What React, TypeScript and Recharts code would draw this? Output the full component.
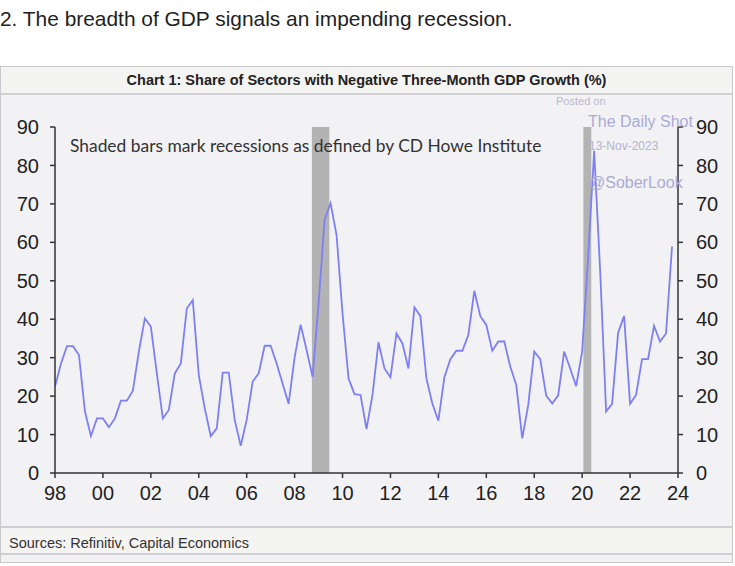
import { ComposedChart, Line, XAxis, YAxis, ReferenceArea } from 'recharts';

// quarterly series, first point = 1998 Q1
const startYear = 1998;
const shareNegative = [
    22.5, 28.5, 33, 33, 30.7, 16, 9.6, 14.2, 14.2, 11.9,
    14.2, 18.8, 18.8, 21.4, 31.6, 40.2, 38.1, 25.9, 14.2, 16.4,
    25.9, 28.5, 42.8, 45, 25.5, 16.8, 9.6, 11.6, 26.1, 26.1,
    13.8, 7.1, 13.8, 23.8, 25.9, 33.1, 33.1, 28.5, 23.2, 18,
    30.1, 38.6, 32, 25, 44, 65.8, 70.2, 61.9, 41.5, 24.6,
    20.5, 20.3, 11.4, 20.3, 34, 27.2, 24.9, 36.3, 33.7, 27.2,
    43.1, 40.8, 24.6, 18, 13.6, 24.9, 29.6, 31.8, 31.8, 35.9,
    47.4, 40.8, 38.5, 31.8, 34.2, 34.2, 27.7, 22.9, 9, 17.7,
    31.6, 29.6, 20.1, 18.1, 20.2, 31.6, 27.2, 22.6, 31.6, 56.3,
    83.8, 52.8, 16, 18, 36.5, 40.8, 18, 20.3, 29.6, 29.6,
    38.3, 34.2, 36.3, 58.9,
];

// CD Howe recession dates (decimal years)
const recessionStarts = [2008.72, 2020.05];
const recessionEnds = [2009.45, 2020.38];

const xTicks = [1998, 2000, 2002, 2004, 2006, 2008, 2010, 2012, 2014, 2016, 2018, 2020, 2022, 2024];
const yTicks = [0, 10, 20, 30, 40, 50, 60, 70, 80, 90];

const data = shareNegative.map((v, i) => ({ date: startYear + i / 4, share: v }));

const sans = '"Liberation Sans", Arial, sans-serif';
const tickStyle = { fill: '#222', fontSize: 20, fontFamily: sans };
const axisStroke = { stroke: '#333', strokeWidth: 1.5 };

export default function App() {
    return (
        <div style={{ position: 'absolute', left: 0, top: 0, width: 735, height: 566, background: '#fff', fontFamily: sans, overflow: 'hidden' }}>
            {/* headline */}
            <div style={{ position: 'absolute', left: 0, top: 7, fontSize: 20.9, color: '#222', whiteSpace: 'nowrap' }}>
                2. The breadth of GDP signals an impending recession.
            </div>

            {/* chart frame */}
            <div style={{ position: 'absolute', left: 0, top: 66, width: 731, height: 495, border: '1px solid #c9c9cc', background: '#f2f2f4' }} />
            <div style={{ position: 'absolute', left: 1, top: 67, width: 731, height: 26, background: '#f4f4f2', borderBottom: '2px solid #d0d0d4', textAlign: 'center', fontWeight: 'bold', fontSize: 14.5, lineHeight: '26px', color: '#222' }}>
                Chart 1: Share of Sectors with Negative Three-Month GDP Growth (%)
            </div>
            <div style={{ position: 'absolute', left: 1, top: 526, width: 731, height: 29, background: '#f4f4f2', borderTop: '2px solid #d0d0d4', borderBottom: '2px solid #d0d0d4', fontSize: 14.5, lineHeight: '30px', color: '#333', paddingLeft: 8, boxSizing: 'border-box' }}>
                Sources: Refinitiv, Capital Economics
            </div>

            <div style={{ position: 'absolute', left: 0, top: 0 }}>
                <ComposedChart width={735} height={566} data={data} margin={{ top: 127, right: 5, bottom: 63, left: 5 }}>
                    <XAxis
                        dataKey="date"
                        type="number"
                        domain={[1998, 2024]}
                        ticks={xTicks}
                        tickFormatter={(y: number) => String(y % 100).padStart(2, '0')}
                        height={30}
                        tick={tickStyle}
                        tickSize={5}
                        tickMargin={8}
                        axisLine={axisStroke}
                        tickLine={axisStroke}
                        allowDataOverflow
                    />
                    <YAxis
                        yAxisId="left"
                        domain={[0, 90]}
                        ticks={yTicks}
                        width={50}
                        tick={tickStyle}
                        tickSize={5}
                        tickMargin={11}
                        axisLine={axisStroke}
                        tickLine={axisStroke}
                    />
                    <YAxis
                        yAxisId="right"
                        orientation="right"
                        domain={[0, 90]}
                        ticks={yTicks}
                        width={52}
                        tick={tickStyle}
                        tickSize={5}
                        tickMargin={13}
                        axisLine={axisStroke}
                        tickLine={axisStroke}
                    />
                    {recessionStarts.map((s, i) => (
                        <ReferenceArea key={i} yAxisId="left" x1={s} x2={recessionEnds[i]} y1={0} y2={90} fill="#b3b3b3" fillOpacity={1} stroke="none" />
                    ))}
                    {/* invisible copy so the right axis gets its ticks */}
                    <Line
                        yAxisId="right"
                        dataKey="share"
                        stroke="#7c7df2"
                        strokeOpacity={0}
                        dot={false}
                        activeDot={false}
                        isAnimationActive={false}
                    />
                    <Line
                        yAxisId="left"
                        dataKey="share"
                        stroke="#7e7ff4"
                        strokeWidth={1.8}
                        dot={false}
                        isAnimationActive={false}
                    />
                </ComposedChart>
            </div>

            {/* annotation + watermark */}
            <div style={{ position: 'absolute', left: 70, top: 135, fontFamily: 'Lato, sans-serif', fontSize: 17.4, color: '#333', whiteSpace: 'nowrap' }}>
                Shaded bars mark recessions as defined by CD Howe Institute
            </div>
            <div style={{ position: 'absolute', left: 556, top: 95, fontSize: 11, color: '#b9b9cc' }}>Posted on</div>
            <div style={{ position: 'absolute', left: 588, top: 113, fontSize: 16, color: '#ababd4' }}>The Daily Shot</div>
            <div style={{ position: 'absolute', left: 589, top: 139, fontSize: 12, color: '#b3b3d2' }}>13-Nov-2023</div>
            <div style={{ position: 'absolute', left: 589, top: 174, fontSize: 16, color: '#ababd4' }}>@SoberLook</div>
        </div>
    );
}
